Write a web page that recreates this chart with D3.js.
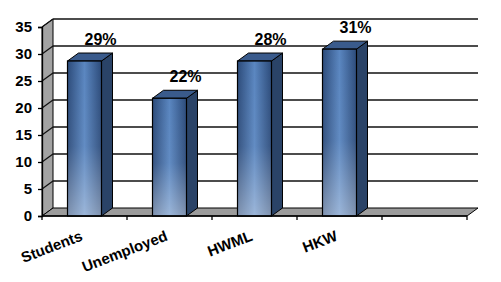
<!DOCTYPE html>
<html>
<head>
<meta charset="utf-8">
<script src="https://cdn.jsdelivr.net/npm/d3@7"></script>
<style>
  body { margin: 0; background: #fff; }
  svg { display: block; }
</style>
</head>
<body>
<script>
// data
var categories = ["Students", "Unemployed", "HWML", "HKW", ""];
var values = [28.7, 21.8, 28.7, 30.9];
var pctLabels = ["29%", "22%", "28%", "31%"];
var yTicks = [0, 5, 10, 15, 20, 25, 30, 35];

var width = 501;
var height = 282;

// 3d depth offset
var dx = 11;
var dy = 8;

var x = d3.scaleBand().domain(categories).range([42, 467]).padding(0);
var y = d3.scaleLinear().domain([0, 35]).range([216, 27]);
var bw = x.bandwidth() * 0.4;

var svg = d3.select("body").append("svg")
    .attr("width", width)
    .attr("height", height);

var defs = svg.append("defs");
var gH = defs.append("linearGradient").attr("id", "frontH");
gH.append("stop").attr("offset", "0%").attr("stop-color", "#2c4b7a");
gH.append("stop").attr("offset", "50%").attr("stop-color", "#5a86c0");
gH.append("stop").attr("offset", "100%").attr("stop-color", "#2c4b7a");
var gV = defs.append("linearGradient").attr("id", "frontV")
    .attr("x1", 0).attr("y1", 0).attr("x2", 0).attr("y2", 1);
gV.append("stop").attr("offset", "0%").attr("stop-color", "#fff").attr("stop-opacity", 0);
gV.append("stop").attr("offset", "55%").attr("stop-color", "#fff").attr("stop-opacity", 0.05);
gV.append("stop").attr("offset", "100%").attr("stop-color", "#fff").attr("stop-opacity", 0.4);

var x0 = x.range()[0], x1 = x.range()[1];
var yb = y(0), yt = y(35);

// back wall
svg.append("rect")
    .attr("x", x0 + dx).attr("y", yt - dy)
    .attr("width", x1 - x0).attr("height", yb - yt)
    .attr("fill", "#fff");

// left wall
svg.append("polygon")
    .attr("points", [[x0, yb], [x0 + dx, yb - dy], [x0 + dx, yt - dy], [x0, yt]].join(" "))
    .attr("fill", "#a3a3a3")
    .attr("stroke", "#000").attr("stroke-width", 1);

// grid lines: back wall + left wall
yTicks.forEach(function(t) {
  if (t === 0) return;
  svg.append("line")
      .attr("x1", x0 + dx).attr("x2", x1 + dx)
      .attr("y1", y(t) - dy).attr("y2", y(t) - dy)
      .attr("stroke", "#111").attr("stroke-width", 1.3);
  svg.append("line")
      .attr("x1", x0).attr("x2", x0 + dx)
      .attr("y1", y(t)).attr("y2", y(t) - dy)
      .attr("stroke", "#111").attr("stroke-width", 1.3);
});

// floor
svg.append("polygon")
    .attr("points", [[x0, yb], [x1, yb], [x1 + dx, yb - dy], [x0 + dx, yb - dy]].join(" "))
    .attr("fill", "#9c9c9c")
    .attr("stroke", "#000").attr("stroke-width", 1);

// bars
var bars = svg.selectAll("g.bar")
    .data(values)
    .enter().append("g").attr("class", "bar");

function bx(d, i) { return x(categories[i]) + (x.bandwidth() - bw) / 2; }

bars.append("polygon")
    .attr("points", function(d, i) {
      var l = bx(d, i) + bw;
      return [[l, y(d)], [l + dx, y(d) - dy], [l + dx, yb - dy], [l, yb]].join(" ");
    })
    .attr("fill", "#2a4367")
    .attr("stroke", "#000").attr("stroke-width", 1);

bars.append("polygon")
    .attr("points", function(d, i) {
      var l = bx(d, i);
      return [[l, y(d)], [l + dx, y(d) - dy], [l + bw + dx, y(d) - dy], [l + bw, y(d)]].join(" ");
    })
    .attr("fill", "#3a5b8c")
    .attr("stroke", "#000").attr("stroke-width", 1);

bars.append("rect")
    .attr("x", bx)
    .attr("y", function(d) { return y(d); })
    .attr("width", bw)
    .attr("height", function(d) { return yb - y(d); })
    .attr("fill", "url(#frontH)");

bars.append("rect")
    .attr("x", bx)
    .attr("y", function(d) { return y(d); })
    .attr("width", bw)
    .attr("height", function(d) { return yb - y(d); })
    .attr("fill", "url(#frontV)")
    .attr("stroke", "#000").attr("stroke-width", 1.2);

// data labels
bars.append("text")
    .attr("x", function(d, i) { return bx(d, i) + bw / 2 + dx + 5; })
    .attr("y", function(d) { return y(d) - dy - 8; })
    .attr("text-anchor", "middle")
    .attr("font-family", "Liberation Sans, Arial, sans-serif")
    .attr("font-weight", "bold")
    .style("font-size", "16px")
    .attr("fill", "#000")
    .text(function(d, i) { return pctLabels[i]; });

// y axis
var yAxis = d3.axisLeft(y).tickValues(yTicks).tickSize(4).tickPadding(6);
var gy = svg.append("g").attr("transform", "translate(" + x0 + ",0)").call(yAxis);
gy.select(".domain").attr("stroke", "#000").attr("stroke-width", 1.3);
gy.selectAll(".tick line").attr("stroke", "#000").attr("stroke-width", 1.3);
gy.selectAll("text")
    .attr("font-family", "Liberation Sans, Arial, sans-serif")
    .attr("font-weight", "bold")
    .style("font-size", "15px")
    .attr("fill", "#000");

// x axis
svg.append("line")
    .attr("x1", x0).attr("x2", x1).attr("y1", yb).attr("y2", yb)
    .attr("stroke", "#000").attr("stroke-width", 1.3);
var bounds = categories.map(function(c) { return x(c); }).concat([x1]);
svg.selectAll("line.xtick")
    .data(bounds)
    .enter().append("line").attr("class", "xtick")
    .attr("x1", function(d) { return d; }).attr("x2", function(d) { return d; })
    .attr("y1", yb).attr("y2", yb + 4)
    .attr("stroke", "#000").attr("stroke-width", 1.3);

svg.selectAll("text.cat")
    .data(categories)
    .enter().append("text").attr("class", "cat")
    .attr("transform", function(d) {
      return "translate(" + (x(d) + x.bandwidth() / 2 - 1) + "," + (yb + 24) + ") rotate(-21)";
    })
    .attr("text-anchor", "end")
    .attr("font-family", "Liberation Sans, Arial, sans-serif")
    .attr("font-weight", "bold")
    .style("font-size", "15px")
    .attr("fill", "#000")
    .text(function(d) { return d; });
</script>
</body>
</html>
